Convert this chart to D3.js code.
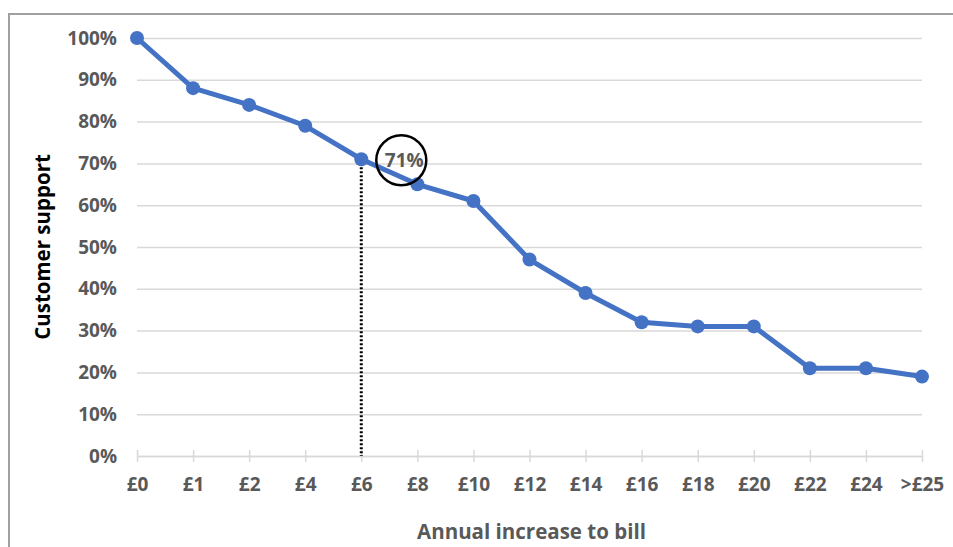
<!DOCTYPE html>
<html>
<head>
<meta charset="utf-8">
<script src="https://cdn.jsdelivr.net/npm/d3@7"></script>
<style>
  body { margin: 0; background: #fff; }
  text { font-family: "Open Sans", sans-serif; }
</style>
</head>
<body>
<div id="vis-container"></div>
<script>
// data
var categories = ['£0','£1','£2','£4','£6','£8','£10','£12','£14','£16','£18','£20','£22','£24','>£25']
var support = [100, 88, 84, 79, 71, 65, 61, 47, 39, 32, 31, 31, 21, 21, 19]
var yTicks = [0, 10, 20, 30, 40, 50, 60, 70, 80, 90, 100]
var highlight = { category: '£6', value: 71 }

var W = 953, H = 547
var margin = { top: 38, right: 31, bottom: 91, left: 137 }
var w = W - margin.left - margin.right
var h = H - margin.top - margin.bottom

var svg = d3.select('#vis-container').append('svg')
    .attr('width', W)
    .attr('height', H)

// chart frame (runs off the page on right and bottom)
svg.append('rect')
    .attr('x', 9).attr('y', 14)
    .attr('width', W + 20).attr('height', H + 20)
    .attr('fill', 'none')
    .attr('stroke', '#a0a0a0')
    .attr('stroke-width', 2)

var g = svg.append('g')
    .attr('transform', 'translate(' + margin.left + ',' + margin.top + ')')

var xScale = d3.scalePoint().domain(categories).range([0, w])
var yScale = d3.scaleLinear().domain([0, 100]).range([h, 0])

// gridlines + y labels
var yAxis = d3.axisLeft(yScale)
    .tickValues(yTicks)
    .tickSize(-w)
    .tickFormat(function (d) { return d + '%' })
var yg = g.append('g').call(yAxis)
yg.select('.domain').remove()
yg.selectAll('.tick line').attr('stroke', '#d9d9d9').attr('stroke-width', 1.5)
yg.selectAll('.tick text')
    .attr('x', -20)
    .attr('fill', '#595959')
    .style('font-size', '19px')
    .style('font-weight', 'bold')

// x axis
var xAxis = d3.axisBottom(xScale).tickSizeInner(6).tickSizeOuter(0).tickPadding(16)
var xg = g.append('g')
    .attr('transform', 'translate(0,' + h + ')')
    .call(xAxis)
xg.select('.domain').attr('stroke', '#d9d9d9').attr('stroke-width', 1.5)
xg.selectAll('.tick line')
    .attr('y1', -6).attr('y2', 6)
    .attr('stroke', '#d9d9d9').attr('stroke-width', 1.5)
xg.selectAll('.tick text')
    .attr('fill', '#595959')
    .style('font-size', '19px')
    .style('font-weight', 'bold')

// dotted drop line
g.append('line')
    .attr('x1', xScale(highlight.category)).attr('x2', xScale(highlight.category))
    .attr('y1', yScale(highlight.value)).attr('y2', yScale(0))
    .attr('stroke', 'black')
    .attr('stroke-width', 3)
    .attr('stroke-dasharray', '2,2')

// line + markers
var line = d3.line()
    .x(function (d, i) { return xScale(categories[i]) })
    .y(function (d) { return yScale(d) })
g.append('path')
    .datum(support)
    .attr('d', line)
    .attr('fill', 'none')
    .attr('stroke', '#4472c4')
    .attr('stroke-width', 5)
    .attr('stroke-linejoin', 'round')
g.selectAll('circle.pt')
    .data(support)
    .enter()
  .append('circle')
    .attr('class', 'pt')
    .attr('cx', function (d, i) { return xScale(categories[i]) })
    .attr('cy', function (d) { return yScale(d) })
    .attr('r', 7)
    .attr('fill', '#4472c4')

// callout circle with label
var cx = xScale(highlight.category) + 40
var cy = yScale(highlight.value) + 1
g.append('text')
    .attr('x', cx + 3).attr('y', cy)
    .attr('dy', '0.35em')
    .attr('text-anchor', 'middle')
    .attr('fill', '#595959')
    .style('font-size', '19px')
    .style('font-weight', 'bold')
    .text(highlight.value + '%')
g.append('circle')
    .attr('cx', cx).attr('cy', cy)
    .attr('r', 25)
    .attr('fill', 'none')
    .attr('stroke', 'black')
    .attr('stroke-width', 2.5)

// axis titles
svg.append('text')
    .attr('transform', 'translate(43,' + 247 + ') rotate(-90)')
    .attr('dy', '0.35em')
    .attr('text-anchor', 'middle')
    .attr('fill', 'black')
    .style('font-size', '20.5px')
    .style('font-weight', 'bold')
    .text('Customer support')
svg.append('text')
    .attr('x', margin.left + w / 2 + 2)
    .attr('y', 532)
    .attr('dy', '0.35em')
    .attr('text-anchor', 'middle')
    .attr('fill', '#595959')
    .style('font-size', '20.5px')
    .style('font-weight', 'bold')
    .text('Annual increase to bill')
</script>
</body>
</html>
